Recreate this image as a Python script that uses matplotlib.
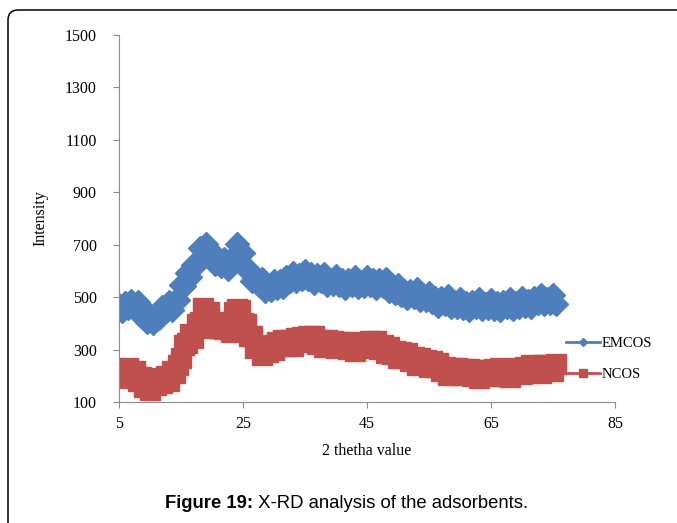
import numpy as np
import matplotlib.pyplot as plt
from matplotlib.patches import FancyBboxPatch
from matplotlib.transforms import Affine2D

# 2 theta positions, one reading every 0.5 degree
two_theta = np.arange(5.0, 75.51, 0.5)

# EMCOS intensity readings
emcos = [
    469, 446, 476, 458, 486, 460, 481, 429, 429, 406,
    431, 401, 434, 420, 463, 447, 481, 452, 485, 488,
    545, 541, 591, 578, 623, 628, 687, 679, 704, 663,
    673, 626, 640, 620, 646, 607, 647, 644, 704, 668,
    668, 606, 602, 560, 577, 547, 568, 524, 539, 526,
    560, 536, 561, 540, 577, 562, 594, 560, 585, 568,
    599, 570, 587, 555, 584, 560, 587, 547, 566, 550,
    580, 546, 564, 536, 566, 546, 576, 539, 558, 544,
    576, 546, 564, 535, 564, 542, 570, 524, 534, 516,
    545, 508, 524, 495, 524, 502, 530, 490, 508, 488,
    515, 480, 495, 466, 496, 474, 503, 462, 480, 463,
    492, 458, 476, 450, 482, 461, 492, 454, 474, 458,
    488, 455, 476, 450, 483, 462, 492, 456, 478, 464,
    496, 465, 487, 462, 495, 477, 508, 472, 493, 478, 507, 474,
]

# NCOS intensity readings
ncos = [
    193, 222, 210, 230, 202, 218, 182, 195, 159, 165,
    145, 175, 166, 192, 172, 200, 182, 217, 212, 242,
    269, 319, 325, 358, 344, 398, 407, 460, 439, 444,
    384, 402, 382, 404, 378, 383, 367, 442, 453, 452,
    403, 399, 352, 351, 305, 313, 280, 308, 292, 316,
    300, 329, 316, 338, 313, 336, 313, 344, 331, 349,
    327, 351, 333, 351, 320, 338, 309, 335, 316, 332,
    307, 330, 311, 330, 302, 322, 296, 324, 308, 327,
    307, 332, 314, 332, 301, 318, 287, 308, 284, 296,
    269, 290, 268, 286, 256, 273, 243, 267, 247, 261,
    235, 255, 233, 249, 217, 234, 204, 230, 212, 228,
    204, 227, 208, 227, 199, 219, 193, 221, 205, 223,
    201, 225, 207, 228, 200, 221, 196, 225, 210, 229,
    208, 234, 218, 240, 214, 236, 212, 240, 224, 242, 220, 244,
]

x_ticks = [5, 25, 45, 65, 85]
y_ticks = [100, 300, 500, 700, 900, 1100, 1300, 1500]

blue = '#4F7EBD'
red = '#C0504D'
grey = '#8C8C8C'

W, H = 677, 523
fig = plt.figure(figsize=(W / 100, H / 100), dpi=100)
ax = fig.add_axes([119 / W, 1 - 402 / H, (615 - 119) / W, (402 - 35) / H])

ax.plot(two_theta, emcos, color=blue, lw=2, marker='D', ms=12,
        mfc=blue, mec=blue, label='EMCOS')
ax.plot(two_theta, ncos, color=red, lw=2, marker='s', ms=15,
        mfc=red, mec=red, label='NCOS')

ax.set_xlim(5, 85)
ax.set_ylim(100, 1500)
ax.set_xticks(x_ticks)
ax.set_yticks(y_ticks)

serif = 'Liberation Serif'
for lab in ax.get_xticklabels() + ax.get_yticklabels():
    lab.set_fontfamily(serif)
    lab.set_fontsize(11.5)
ax.tick_params(axis='both', direction='out', length=4, width=0.8,
               color=grey, pad=6)
ax.tick_params(axis='y', pad=12)

for side in ['top', 'right']:
    ax.spines[side].set_visible(False)
for side in ['left', 'bottom']:
    ax.spines[side].set_color(grey)
    ax.spines[side].set_linewidth(0.8)

ax.set_xlabel('2 thetha value', family=serif, fontsize=11.5, labelpad=8)
ax.set_ylabel('Intensity', family=serif, fontsize=11.5, labelpad=12)

leg = ax.legend(loc='center left', bbox_to_anchor=(0.875, 0.118),
                frameon=False, prop={'family': serif, 'size': 10.5},
                handlelength=2.3, handletextpad=0.1, labelspacing=1.2)
# legend keys use smaller symbols than the plotted points
leg.legend_handles[0].set_markersize(4.5)
leg.legend_handles[1].set_markersize(6)
leg.set_clip_on(False)

# rounded frame around the figure panel
px = Affine2D().scale(1 / W, 1 / H) + fig.transFigure
frame = FancyBboxPatch((8, -60), W + 60, (H - 10) + 60,
                       boxstyle='round,pad=0,rounding_size=10',
                       transform=px, fill=False, ec='black', lw=1.1,
                       clip_on=False)
fig.patches.append(frame)

# caption: bold lead-in followed by regular text
cap = fig.text(165 / W, 1 - 504 / H, 'Figure 19:', ha='left', va='center',
               fontsize=13.3, weight='bold', family='Liberation Sans')
ax.annotate(' X-RD analysis of the adsorbents.', xy=(1, 0.5), xycoords=cap,
            ha='left', va='center', fontsize=13.3, family='Liberation Sans',
            annotation_clip=False)

fig.savefig('out.png', dpi=100)
